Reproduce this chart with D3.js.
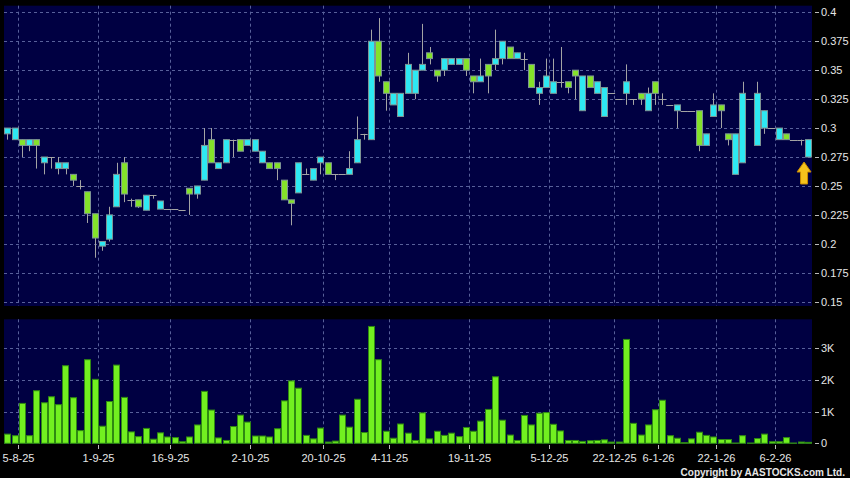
<!DOCTYPE html>
<html>
<head>
<meta charset="utf-8">
<script src="https://cdn.jsdelivr.net/npm/d3@7"></script>
<style>
  html, body { margin: 0; padding: 0; background: #000; }
  svg { display: block; }
</style>
</head>
<body>
<svg id="chart" width="850" height="478"></svg>
<script>
// candle data, one entry per traded day
const opens = [
  .295,.29,.29,.285,.29,.27,.275,.265,.265,.26,
  .25,.245,.226,.198,.204,.232,.27,.238,.238,.229,
  .242,.23,.23,.23,.229,.248,.243,.255,.29,.265,
  .27,.29,.29,.285,.28,.27,.27,.27,.255,.238,
  .244,.26,.255,.27,.27,.26,.26,.26,.27,.295,
  .29,.375,.34,.32,.31,.33,.33,.35,.365,.35,
  .35,.355,.355,.36,.345,.34,.355,.355,.36,.37,
  .36,.36,.355,.33,.335,.33,.34,.34,.35,.315,
  .345,.33,.31,.33,.325,.33,.325,.33,.315,.34,
  .325,.32,.315,.315,.315,.315,.285,.31,.32,.295,
  .26,.27,.325,.285,.30,.30,.29,.295,.29,.29,
  .275
];
const highs = [
  .30,.30,.29,.29,.29,.275,.275,.275,.27,.26,
  .255,.245,.226,.202,.232,.27,.275,.239,.238,.242,
  .242,.237,.23,.23,.229,.248,.25,.30,.30,.27,
  .29,.29,.29,.29,.29,.28,.27,.27,.255,.238,
  .27,.265,.265,.275,.27,.26,.26,.28,.31,.295,
  .385,.395,.34,.33,.33,.365,.35,.39,.37,.35,
  .36,.36,.36,.36,.345,.36,.355,.385,.375,.37,
  .365,.365,.355,.34,.36,.36,.37,.34,.35,.345,
  .345,.34,.335,.33,.325,.355,.325,.33,.335,.34,
  .33,.32,.32,.315,.315,.315,.295,.33,.32,.295,
  .295,.34,.325,.34,.315,.30,.30,.295,.29,.29,
  .29
];
const lows = [
  .29,.29,.275,.28,.265,.26,.265,.26,.26,.25,
  .247,.218,.188,.194,.202,.232,.236,.232,.231,.229,
  .239,.23,.23,.23,.229,.225,.239,.255,.27,.265,
  .27,.275,.28,.285,.28,.27,.265,.255,.238,.216,
  .244,.26,.255,.26,.26,.255,.26,.26,.27,.29,
  .29,.34,.315,.32,.31,.33,.325,.35,.355,.34,
  .345,.355,.355,.345,.33,.34,.33,.35,.355,.36,
  .36,.35,.335,.32,.335,.33,.335,.33,.325,.315,
  .335,.33,.31,.33,.325,.32,.32,.32,.315,.32,
  .32,.32,.30,.315,.315,.28,.285,.31,.30,.285,
  .26,.27,.325,.285,.295,.30,.29,.29,.29,.285,
  .275
];
const closes = [
  .30,.30,.285,.29,.285,.275,.275,.27,.27,.255,
  .25,.226,.205,.202,.225,.26,.243,.238,.232,.242,
  .242,.237,.23,.23,.229,.243,.25,.285,.27,.27,
  .29,.29,.28,.29,.29,.28,.265,.265,.238,.235,
  .27,.26,.265,.275,.26,.26,.26,.265,.29,.295,
  .375,.345,.33,.33,.33,.355,.35,.355,.36,.345,
  .36,.36,.36,.35,.34,.345,.345,.36,.375,.36,
  .365,.36,.335,.335,.345,.34,.34,.335,.345,.345,
  .335,.34,.335,.33,.325,.34,.325,.325,.33,.33,
  .325,.32,.32,.315,.315,.285,.295,.32,.315,.29,
  .295,.33,.325,.33,.315,.30,.30,.29,.29,.29,
  .29
];
// volume in thousands
const volumes = [
  .29,.24,1.26,.24,1.66,1.28,1.47,1.22,2.45,1.44,
  .40,2.64,2.02,.54,1.32,2.47,1.45,.36,.21,.47,
  .13,.33,.20,.18,.05,.20,.58,1.64,1.05,.17,
  .09,.53,.89,.67,.23,.23,.20,.46,1.34,1.97,
  1.74,.25,.14,.48,.04,.07,.89,.51,1.39,.34,
  3.69,2.64,.38,.16,.61,.32,.09,.96,.14,.38,
  .25,.32,.21,.50,.38,.70,1.07,2.10,.73,.26,
  .09,.88,.58,.95,.97,.60,.39,.09,.09,.06,
  .08,.09,.11,.04,.04,3.28,.63,.26,.58,1.06,
  1.36,.24,.16,.02,.14,.35,.25,.20,.12,.12,
  .01,.24,.01,.15,.29,.05,.05,.18,.01,.04,
  .03
];

const dateLabels = ['5-8-25','1-9-25','16-9-25','2-10-25','20-10-25','4-11-25',
  '19-11-25','5-12-25','22-12-25','6-1-26','22-1-26','6-2-26'];
const dateIdx = [1, 12, 22, 33, 43, 52, 63, 74, 83, 89, 97, 105];

const priceTicks = [0.15,0.175,0.2,0.225,0.25,0.275,0.3,0.325,0.35,0.375,0.4];
const volTicks = [0, 1, 2, 3];

const svg = d3.select('#chart');
const left = 4, right = 812;
const pTop = 5.7, pBottom = 306;
const vTop = 319.3, vBottom = 444;

const x = d3.scaleBand()
  .domain(d3.range(opens.length))
  .range([3.7, 811.7])
  .paddingInner(0.15)
  .paddingOuter(0.075);
const cx = i => x(i) + x.bandwidth() / 2;
const gx = i => cx(i) + x.step() * 0.4;

const y = d3.scaleLinear().domain([0.15, 0.4]).range([301.7, 12.3]);
const yv = d3.scaleLinear().domain([0, 3]).range([443.3, 348.3]);

svg.append('rect').attr('width', 850).attr('height', 478).attr('fill', '#000');

const defs = svg.append('defs');
defs.append('clipPath').attr('id', 'clipP')
  .append('rect').attr('x', left).attr('y', pTop).attr('width', right - left).attr('height', pBottom - pTop);
defs.append('clipPath').attr('id', 'clipV')
  .append('rect').attr('x', left).attr('y', vTop).attr('width', right - left).attr('height', vBottom - vTop);

const gridColor = '#58609a';

// panels
[[pTop, pBottom], [vTop, vBottom]].forEach(([t, b]) => {
  svg.append('rect')
    .attr('x', left).attr('y', t)
    .attr('width', right - left).attr('height', b - t)
    .attr('fill', '#000042');
});

// price grid
svg.append('g').selectAll('line')
  .data(priceTicks)
  .join('line')
  .attr('x1', left).attr('x2', right)
  .attr('y1', d => Math.round(y(d)) + 0.5).attr('y2', d => Math.round(y(d)) + 0.5)
  .attr('stroke', gridColor).attr('stroke-dasharray', '3,3');

// volume grid
svg.append('g').selectAll('line')
  .data(volTicks.filter(d => d > 0))
  .join('line')
  .attr('x1', left).attr('x2', right)
  .attr('y1', d => Math.round(yv(d)) + 0.5).attr('y2', d => Math.round(yv(d)) + 0.5)
  .attr('stroke', gridColor).attr('stroke-dasharray', '3,3');

// vertical grid in both panels
[[pTop, pBottom], [vTop, vBottom]].forEach(([t, b]) => {
  svg.append('g').selectAll('line')
    .data(dateIdx)
    .join('line')
    .attr('x1', d => Math.round(gx(d)) + 0.5).attr('x2', d => Math.round(gx(d)) + 0.5)
    .attr('y1', t).attr('y2', b)
    .attr('stroke', gridColor).attr('stroke-dasharray', '3,3');
});

// candles
const candles = svg.append('g').attr('clip-path', 'url(#clipP)')
  .selectAll('g')
  .data(d3.range(opens.length))
  .join('g');

candles.append('line')
  .attr('x1', i => Math.round(cx(i)) + 0.5).attr('x2', i => Math.round(cx(i)) + 0.5)
  .attr('y1', i => y(highs[i])).attr('y2', i => y(lows[i]))
  .attr('stroke', '#a4a4a4');

candles.filter(i => opens[i] !== closes[i])
  .append('rect')
  .attr('x', i => Math.round(x(i)) + 0.5)
  .attr('y', i => y(Math.max(opens[i], closes[i])))
  .attr('width', Math.round(x.bandwidth()))
  .attr('height', i => Math.abs(y(opens[i]) - y(closes[i])))
  .attr('fill', i => closes[i] > opens[i] ? '#2ee8f2' : '#84e22a')
  .attr('stroke', '#7d9494');

candles.filter(i => opens[i] === closes[i])
  .append('line')
  .attr('x1', i => x(i) - 0.5).attr('x2', i => x(i) + x.bandwidth() + 0.5)
  .attr('y1', i => Math.round(y(closes[i])) + 0.5).attr('y2', i => Math.round(y(closes[i])) + 0.5)
  .attr('stroke', '#a4a4a4');

// last price marker
const last = opens.length - 1;
const ax = cx(last) - 4, ay = y(lows[last]) + 5;
svg.append('path')
  .attr('d', `M${ax},${ay} L${ax + 7},${ay + 10} L${ax + 3.5},${ay + 10} L${ax + 3.5},${ay + 22}
    L${ax - 3.5},${ay + 22} L${ax - 3.5},${ay + 10} L${ax - 7},${ay + 10} Z`)
  .attr('fill', '#f6c21c').attr('stroke', '#c98a00').attr('stroke-width', 1);

// volume bars
svg.append('g').attr('clip-path', 'url(#clipV)')
  .selectAll('rect')
  .data(volumes)
  .join('rect')
  .attr('x', (d, i) => Math.round(x(i)) + 0.5)
  .attr('y', d => yv(d))
  .attr('width', Math.round(x.bandwidth()))
  .attr('height', d => yv(0) - yv(d))
  .attr('fill', '#72f020')
  .attr('stroke', '#2f8a12');

// right axis labels
const axisFont = '"Liberation Sans", Arial, sans-serif';
const priceAxis = svg.append('g').selectAll('g').data(priceTicks).join('g')
  .attr('transform', d => `translate(0,${Math.round(y(d)) + 0.5})`);
priceAxis.append('line').attr('x1', 815).attr('x2', 819).attr('stroke', '#bbb');
priceAxis.append('text')
  .attr('x', 821).attr('dy', '0.35em')
  .attr('fill', '#e6e6e6').attr('font-family', axisFont).attr('font-size', 11)
  .text(d => String(+d.toFixed(3)));

const volAxis = svg.append('g').selectAll('g').data(volTicks).join('g')
  .attr('transform', d => `translate(0,${Math.round(yv(d)) + 0.5})`);
volAxis.append('line').attr('x1', 815).attr('x2', 819).attr('stroke', '#bbb');
volAxis.append('text')
  .attr('x', 821).attr('dy', '0.35em')
  .attr('fill', '#e6e6e6').attr('font-family', axisFont).attr('font-size', 11)
  .text(d => d === 0 ? '0' : d + 'K');

// date axis
const dateAxis = svg.append('g').selectAll('g').data(dateIdx).join('g')
  .attr('transform', d => `translate(${Math.round(gx(d)) + 0.5},0)`);
dateAxis.append('line').attr('y1', 445).attr('y2', 449).attr('stroke', '#bbb');
dateAxis.append('text')
  .attr('y', 462).attr('text-anchor', 'middle')
  .attr('fill', '#e6e6e6').attr('font-family', axisFont).attr('font-size', 11)
  .text((d, i) => dateLabels[i]);

svg.append('text')
  .attr('x', 845).attr('y', 476).attr('text-anchor', 'end')
  .attr('fill', '#e6e6e6').attr('font-family', axisFont)
  .attr('font-size', 10).attr('font-weight', 'bold')
  .text('Copyright by AASTOCKS.com Ltd.');
</script>
</body>
</html>
